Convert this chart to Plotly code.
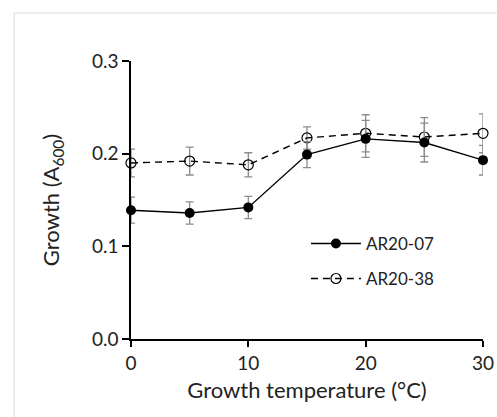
import plotly.graph_objects as go

temps = [0, 5, 10, 15, 20, 25, 30]

ar07 = [0.139, 0.136, 0.142, 0.199, 0.216, 0.212, 0.193]
ar07_err = [0.014, 0.012, 0.012, 0.014, 0.020, 0.021, 0.016]

ar38 = [0.190, 0.192, 0.188, 0.217, 0.222, 0.218, 0.222]
ar38_err = [0.015, 0.015, 0.013, 0.012, 0.020, 0.021, 0.021]

FONT = "Lato"
ERR_COLOR = "#8c8c8c"

fig = go.Figure()

fig.add_trace(go.Scatter(
    x=temps, y=ar38, name="AR20-38", mode="lines+markers",
    line=dict(color="black", width=1.4, dash="7px,5px"),
    marker=dict(symbol="circle-open", size=10, color="black", line=dict(width=1.2)),
    error_y=dict(type="data", array=ar38_err, color=ERR_COLOR, thickness=1.3, width=4),
    cliponaxis=False, legend="legend2", showlegend=True,
))
fig.add_trace(go.Scatter(
    x=temps, y=ar07, name="AR20-07", mode="lines+markers",
    line=dict(color="black", width=1.4),
    marker=dict(symbol="circle", size=10, color="black"),
    error_y=dict(type="data", array=ar07_err, color=ERR_COLOR, thickness=1.3, width=4),
    cliponaxis=False, legend="legend", showlegend=True,
))

# light frame around the figure (only top and left edges visible)
fig.add_shape(type="line", xref="paper", yref="paper",
              x0=-0.332, y0=1.173, x1=1.1, y1=1.173,
              line=dict(color="#dcdcdc", width=1))
fig.add_shape(type="line", xref="paper", yref="paper",
              x0=-0.332, y0=1.173, x1=-0.332, y1=-0.4,
              line=dict(color="#dcdcdc", width=1))

fig.update_layout(
    width=497, height=417,
    margin=dict(l=131, r=14, t=61, b=78, autoexpand=False),
    showlegend=True,
    paper_bgcolor="white", plot_bgcolor="white",
    font=dict(family=FONT, size=19, color="#222"),
    legend=dict(x=0.497, y=0.342, xanchor="left", yanchor="middle",
                bgcolor="rgba(0,0,0,0)", font=dict(size=17), itemwidth=50),
    legend2=dict(x=0.497, y=0.216, xanchor="left", yanchor="middle",
                 bgcolor="rgba(0,0,0,0)", font=dict(size=17), itemwidth=50),
)

fig.update_xaxes(
    range=[0, 30], tickvals=[0, 10, 20, 30],
    showline=True, linecolor="black", linewidth=1.5,
    ticks="outside", ticklen=6, tickcolor="black", tickwidth=1.5,
    showgrid=False, zeroline=False, automargin=False,
    tickfont=dict(size=19),
    title=dict(text="Growth temperature (°C)", font=dict(size=22), standoff=10),
)
fig.update_yaxes(
    range=[0, 0.3], tickvals=[0, 0.1, 0.2, 0.3], ticktext=["0.0", "0.1", "0.2", "0.3"],
    showline=True, linecolor="black", linewidth=1.5,
    ticks="outside", ticklen=7, tickcolor="black", tickwidth=1.5,
    showgrid=False, zeroline=False, automargin=False,
    tickfont=dict(size=19),
    title=dict(text="Growth (A<sub>600</sub>)", font=dict(size=22), standoff=26),
)

# drop the default 8px page margin so the figure fills the window
fig.write_html("out.html", config={"displayModeBar": False},
               post_script="document.body.style.margin='0px';")
